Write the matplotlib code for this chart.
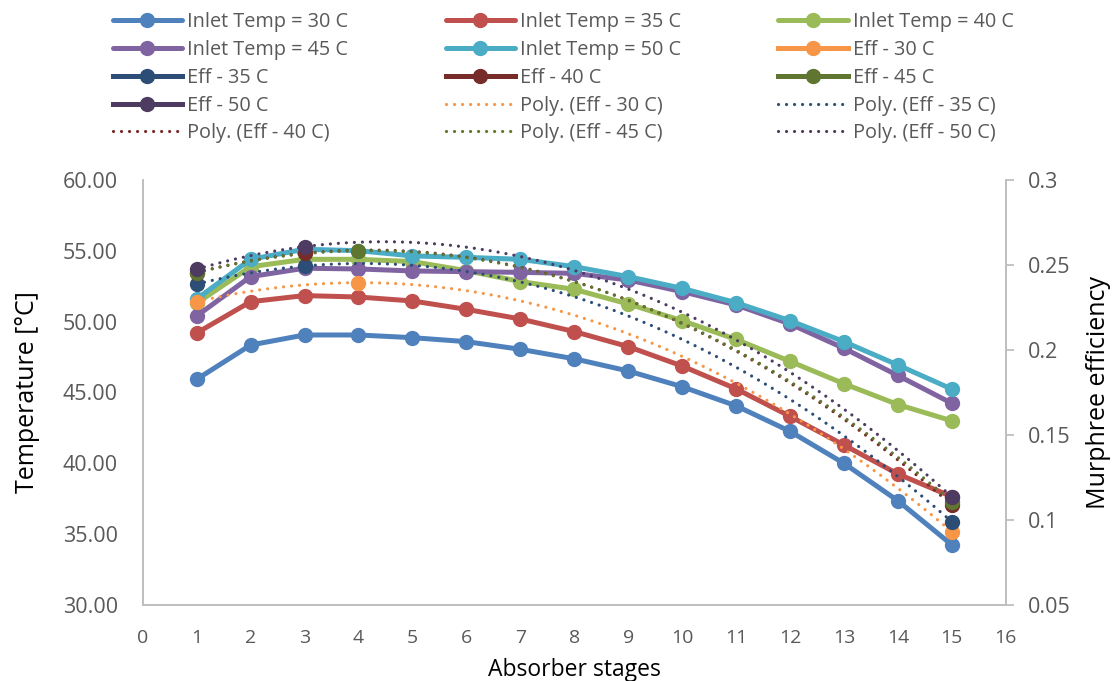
import numpy as np
import matplotlib
matplotlib.use("Agg")
import matplotlib.pyplot as plt
from matplotlib.ticker import FormatStrFormatter, FixedLocator, FuncFormatter

plt.rcParams['font.family'] = ['Open Sans', 'DejaVu Sans']

stages = list(range(1, 16))
temp_30 = [45.93, 48.35, 49.06, 49.06, 48.87, 48.59, 48.05, 47.38, 46.52, 45.41, 44.06, 42.26, 40.00, 37.36, 34.25]
temp_35 = [49.20, 51.41, 51.84, 51.74, 51.46, 50.87, 50.19, 49.30, 48.24, 46.87, 45.26, 43.32, 41.29, 39.25, 37.65]
temp_40 = [51.30, 53.88, 54.40, 54.40, 54.24, 53.60, 52.83, 52.28, 51.25, 50.07, 48.75, 47.20, 45.62, 44.15, 43.00]
temp_45 = [50.40, 53.18, 53.77, 53.72, 53.58, 53.53, 53.48, 53.41, 52.94, 52.12, 51.18, 49.84, 48.12, 46.20, 44.24]
temp_50 = [51.60, 54.40, 55.11, 55.01, 54.64, 54.54, 54.40, 53.88, 53.18, 52.35, 51.34, 50.07, 48.59, 46.94, 45.24]

eff30_x = [1, 4, 15]; eff30 = [0.2284, 0.2396, 0.0932]
eff35_x = [1, 3, 15]; eff35 = [0.2388, 0.2494, 0.0990]
eff40_x = [1, 3, 15]; eff40 = [0.2455, 0.2569, 0.1088]
eff45_x = [1, 4, 15]; eff45 = [0.2455, 0.2584, 0.1108]
eff50_x = [1, 3, 15]; eff50 = [0.2475, 0.2608, 0.1137]

temp_labels = ["Inlet Temp = 30 C", "Inlet Temp = 35 C", "Inlet Temp = 40 C",
               "Inlet Temp = 45 C", "Inlet Temp = 50 C"]
eff_labels = ["Eff - 30 C", "Eff - 35 C", "Eff - 40 C", "Eff - 45 C", "Eff - 50 C"]
poly_labels = ["Poly. (Eff - 30 C)", "Poly. (Eff - 35 C)", "Poly. (Eff - 40 C)",
               "Poly. (Eff - 45 C)", "Poly. (Eff - 50 C)"]

temp_colors = ["#4F81BD", "#C0504D", "#9BBB59", "#8064A2", "#4BACC6"]
eff_colors = ["#F79646", "#2C4D75", "#772C2A", "#5F7530", "#4D3B62"]

fig = plt.figure(figsize=(11.15, 6.81), dpi=100)
ax = fig.add_axes([0.128, 0.1116, 0.774, 0.6241])
ax2 = ax.twinx()

handles = []
for ys, c, lab in zip([temp_30, temp_35, temp_40, temp_45, temp_50], temp_colors, temp_labels):
    h, = ax.plot(stages, ys, color=c, lw=3.6, marker='o', ms=10, label=lab,
                 solid_capstyle='round', solid_joinstyle='round')
    handles.append(h)

effs = [(eff30_x, eff30), (eff35_x, eff35), (eff40_x, eff40), (eff45_x, eff45), (eff50_x, eff50)]
poly_handles = []
for (xs, ys), c, lab in zip(effs, eff_colors, poly_labels):
    coef = np.polyfit(xs, ys, 2)
    xx = np.linspace(min(xs), max(xs), 300)
    h, = ax2.plot(xx, np.polyval(coef, xx), color=c, lw=2.3, linestyle=(0, (0.01, 2.5)),
                  dash_capstyle='round', label=lab)
    poly_handles.append(h)
eff_handles = []
for (xs, ys), c, lab in zip(effs, eff_colors, eff_labels):
    ax2.plot(xs, ys, color=c, lw=0, marker='o', ms=10, zorder=5)
    h, = ax2.plot([], [], color=c, lw=3.6, marker='o', ms=10, label=lab)
    eff_handles.append(h)

items = handles + eff_handles + poly_handles
order = [items[3 * r + c] for c in range(3) for r in range(5)]
leg = fig.legend(order, [h.get_label() for h in order], ncol=3, loc='upper left',
                 bbox_to_anchor=(0.085, 1.008), frameon=False, fontsize=14.3,
                 handlelength=3.5, handletextpad=0.25, columnspacing=4.9,
                 labelspacing=0.39, labelcolor='#595959')

ax.set_xlim(0, 16)
ax.set_ylim(30, 60)
ax2.set_ylim(0.05, 0.3)
ax.xaxis.set_major_locator(FixedLocator(range(0, 17)))
ax.yaxis.set_major_locator(FixedLocator(np.arange(30, 61, 5)))
ax.yaxis.set_major_formatter(FormatStrFormatter('%.2f'))
ax2.yaxis.set_major_locator(FixedLocator([0.05, 0.1, 0.15, 0.2, 0.25, 0.3]))
ax2.yaxis.set_major_formatter(FuncFormatter(lambda v, p: ('%.2f' % v).rstrip('0')))

grey = '#BFBFBF'
for a in (ax, ax2):
    a.spines['top'].set_visible(False)
    for s in ('left', 'bottom', 'right'):
        a.spines[s].set_color(grey)
        a.spines[s].set_linewidth(1.3)
ax.tick_params(axis='y', length=0, labelsize=15.5, labelcolor='#595959', pad=18)
ax.tick_params(axis='x', length=0, labelsize=14, labelcolor='#595959', pad=17)
ax2.tick_params(axis='y', length=6, width=1.3, color=grey, labelsize=15.5,
                labelcolor='#595959', pad=10)

ax.set_xlabel("Absorber stages", fontsize=16.5, color='black', labelpad=8)
ax.set_ylabel("Temperature [°C]", fontsize=18, color='black', labelpad=16)
ax2.set_ylabel("Murphree efficiency", fontsize=18, color='black', labelpad=11)

fig.savefig("out.png", dpi=100)
